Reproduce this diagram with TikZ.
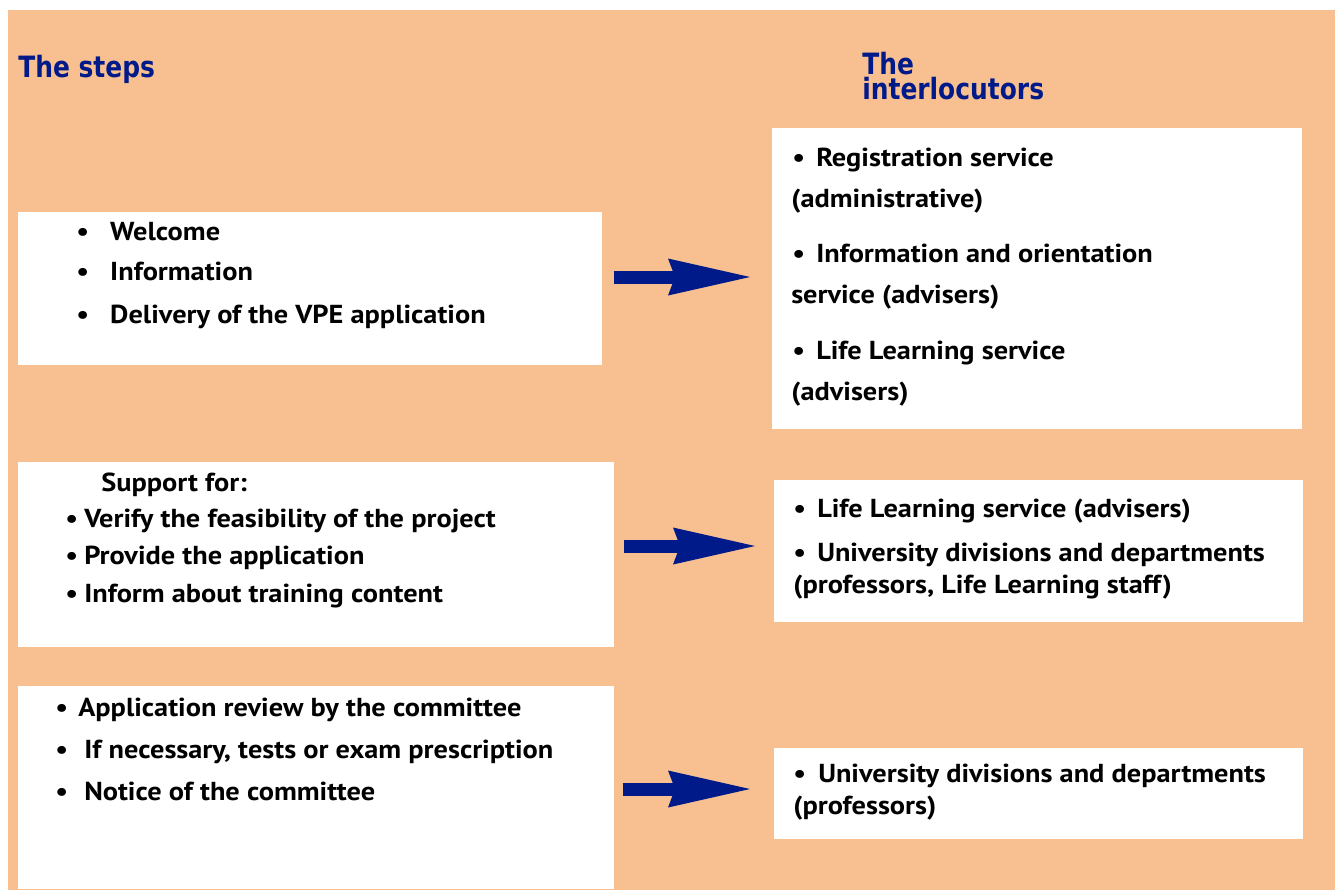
\documentclass[tikz,border=0pt]{standalone}
\usepackage{fontspec}
\setmainfont{PT Sans}[FakeStretch=1.09]
\newfontfamily\headfont[FakeStretch=0.85]{DejaVu Sans}
\usetikzlibrary{arrows.meta}
\definecolor{peach}{HTML}{F8C090}
\definecolor{navy}{HTML}{001A8A}
\newdimen\px \px=0.75pt
\newcommand\itm[1]{\makebox[#1\px][l]{\textbullet}}
\tikzset{
	panel/.style={fill=white, inner sep=0pt, anchor=north west},
	txt/.style={anchor=base west, inner sep=0pt, font=\bfseries\fontsize{19.5}{21}\selectfont},
	head/.style={anchor=base west, inner sep=0pt, text=navy, font=\headfont\bfseries\fontsize{22}{24}\selectfont},
	flow/.style={draw=navy, line width=9.75pt, -{Stealth[length=61.5pt, width=27.75pt, inset=5.25pt, line width=0pt]}}
}
\begin{document}
\begin{tikzpicture}[x=0.75pt,y=-0.75pt]
			\useasboundingbox (0,0) rectangle (1335,890);
			\fill[white] (0,0) rectangle (1335,890);
			\fill[peach] (8,10) rectangle (1335,890);
			
			\node[head] (steps) at (18,77) {The steps};
			\node[head] (inter1) at (862,74) {The};
			\node[head] (inter2) at (862,99) {interlocutors};
			
			% steps
			\node[panel, minimum width=584\px, minimum height=153\px] (s1) at (18,212) {};
			\node[panel, minimum width=596\px, minimum height=185\px] (s2) at (18,462) {};
			\node[panel, minimum width=596\px, minimum height=203\px] (s3) at (18,686) {};
			
			% interlocutors
			\node[panel, minimum width=530\px, minimum height=301\px] (i1) at (772,128) {};
			\node[panel, minimum width=529\px, minimum height=142\px] (i2) at (774,480) {};
			\node[panel, minimum width=529\px, minimum height=91\px] (i3) at (774,748) {};
			
			\foreach \y/\t [count=\k] in {240/Welcome, 280/Information, 323/Delivery of the VPE application}{
				\node[txt] (s1-\k) at (76,\y) {\itm{34}\t};
			}
			
			\node[txt] (s2-0) at (101,491) {Support for:};
			\foreach \y/\t [count=\k] in {527/Verify the feasibility of the project, 564/Provide the application, 602/Inform about training content}{
				\node[txt] (s2-\k) at (65,\y) {\itm{19}\t};
			}
			
			\node[txt] (s3-1) at (55,716) {\itm{23}Application review by the committee};
			\node[txt] (s3-2) at (55,758) {\itm{29}If necessary, tests or exam prescription};
			\node[txt] (s3-3) at (55,800) {\itm{29}Notice of the committee};
			
			\foreach \y/\a/\b [count=\k] in {166/Registration service/(administrative), 262/Information and orientation/service (advisers), 359/Life Learning service/(advisers)}{
				\node[txt] (i1-\k) at (792,\y) {\itm{24}\a};
				\node[txt] (i1-\k b) at (791,\y+41) {\b};
			}
			
			\node[txt] (i2-1) at (793,517) {\itm{24}Life Learning service (advisers)};
			\node[txt] (i2-2) at (793,561) {\itm{24}University divisions and departments};
			\node[txt] (i2-3) at (793,593) {(professors, Life Learning staff)};
			
			\node[txt] (i3-1) at (793,782) {\itm{25}University divisions and departments};
			\node[txt] (i3-2) at (793,814) {(professors)};
			
			\foreach \s/\i/\y/\a/\b in {s1/i1/277/11/22, s2/i2/546/9/19, s3/i3/789/8/24}{
				\draw[flow] ([xshift=\a\px]\s.east |- 0,\y) -- ([xshift=-\b\px]\i.west |- 0,\y);
			}
		\end{tikzpicture}
\end{document}
